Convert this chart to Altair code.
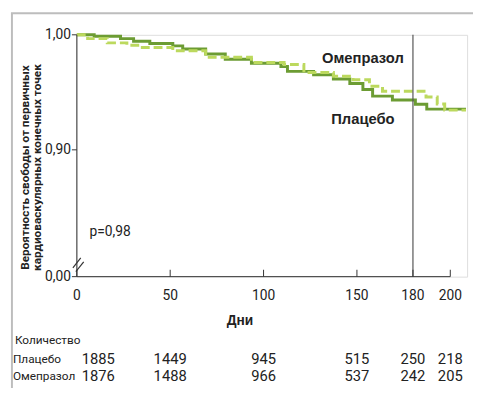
import altair as alt
import pandas as pd

# ---- data ----
placebo_days = [0, 9.3, 23.4, 30.4, 39.1, 51.4, 56.7, 69, 79.5, 93.5, 109.3, 112.8, 126.8,
                137.4, 146.2, 153.2, 158.4, 169, 181.3, 187.4, 208.4]
placebo_surv = [1.000, 0.9987, 0.9967, 0.9944, 0.9925, 0.9904, 0.9876, 0.9833, 0.9788, 0.9753,
                0.9724, 0.9682, 0.9653, 0.9616, 0.9576, 0.9525, 0.9467, 0.9433, 0.9396, 0.9354, 0.9354]
omep_days = [0, 5.8, 16.3, 26.8, 33.9, 51.4, 69, 93.5, 111, 121.6, 137.4, 147.9, 156.7,
             163.7, 187, 193, 197, 208.4]
omep_surv = [1.000, 0.9967, 0.9930, 0.9910, 0.9890, 0.9861, 0.9805, 0.9759, 0.9742, 0.9673,
             0.9639, 0.9610, 0.9553, 0.9510, 0.9460, 0.9399, 0.9345, 0.9345]

tick_days = [0, 50, 100, 150, 180, 200]
x_tick_labels = ["0", "50", "100", "150", "180", "200"]
y_ticks = [0.0, 0.9, 1.0]
y_tick_labels = ["0,00", "0,90", "1,00"]
risk_placebo = [1885, 1449, 945, 515, 250, 218]
risk_omep = [1876, 1488, 966, 537, 242, 205]
group_names = ["Плацебо", "Омепразол"]
y_title = ["Вероятность свободы от первичных", "кардиоваскулярных конечных точек"]
x_title = "Дни"
table_title = "Количество"
p_text = "p=0,98"

FONT = "Roboto, Liberation Sans, sans-serif"
BOLD = "Liberation Sans, Arial, sans-serif"
C_PLAC = "#6c9c33"
C_OMEP = "#bcd95e"
INK = "#222222"
AX = "#333333"

W, H = 397, 246
xs = alt.Scale(domain=[0, 209], range=[0, W], nice=False, zero=False)
ys = alt.Scale(domain=[0, 0.9, 1.0], range=[H, 117, 0], nice=False, zero=False)

pl_df = pd.DataFrame({"day": placebo_days, "s": placebo_surv})
om_df = pd.DataFrame({"day": omep_days, "s": omep_surv})

placebo = alt.Chart(pl_df).mark_line(interpolate="step-after", color=C_PLAC, strokeWidth=3).encode(
    x=alt.X("day:Q", scale=xs, axis=None),
    y=alt.Y("s:Q", scale=ys, axis=None),
)
omep = alt.Chart(om_df).mark_line(interpolate="step-after", color=C_OMEP, strokeWidth=3,
                                  strokeDash=[9, 4]).encode(
    x=alt.X("day:Q", scale=xs, axis=None),
    y=alt.Y("s:Q", scale=ys, axis=None),
)

# x axis (drawn from tick data through the x scale)
xt_df = pd.DataFrame({"day": tick_days, "lab": x_tick_labels})
x_domain = alt.Chart(pd.DataFrame({"a": [tick_days[0]], "b": [tick_days[-1]]})).mark_rule(
    color=AX, strokeWidth=1).encode(
    x=alt.X("a:Q", scale=xs, axis=None), x2="b:Q", y=alt.value(H))
x_ticks = alt.Chart(xt_df).mark_rule(color=AX, strokeWidth=1).encode(
    x=alt.X("day:Q", scale=xs, axis=None), y=alt.value(H - 7), y2=alt.value(H))
x_labels = alt.Chart(xt_df).mark_text(baseline="middle", align="center", fontSize=14,
                                      font=FONT, color=INK).encode(
    x=alt.X("day:Q", scale=xs, axis=None), y=alt.value(H + 20), text="lab:N")

# y axis (drawn from tick data through the y scale)
yt_df = pd.DataFrame({"v": y_ticks, "lab": y_tick_labels})
y_domain = alt.Chart(pd.DataFrame({"k": [0]})).mark_rule(color=AX, strokeWidth=1).encode(
    x=alt.value(0), y=alt.value(0), y2=alt.value(H))
y_tickmarks = alt.Chart(yt_df).mark_rule(color=AX, strokeWidth=1).encode(
    y=alt.Y("v:Q", scale=ys, axis=None), x=alt.value(-5), x2=alt.value(0))
y_labels = alt.Chart(yt_df).mark_text(baseline="middle", align="right", fontSize=14,
                                      font=FONT, color=INK).encode(
    y=alt.Y("v:Q", scale=ys, axis=None), x=alt.value(-6), text="lab:N")

vline = alt.Chart(pd.DataFrame({"day": [180]})).mark_rule(color="#555", strokeWidth=1.2).encode(
    x=alt.X("day:Q", scale=xs, axis=None), y=alt.value(0), y2=alt.value(H))

# axis break marks
brk = alt.Chart(pd.DataFrame({"k": [0]})).mark_rule(color=AX, strokeWidth=1.2).encode(
    x=alt.value(-4), x2=alt.value(4), y=alt.value(237), y2=alt.value(227))
brk2 = alt.Chart(pd.DataFrame({"k": [0]})).mark_rule(color=AX, strokeWidth=1.2).encode(
    x=alt.value(-1), x2=alt.value(7), y=alt.value(241), y2=alt.value(231))

# frame lines
frame_v = alt.Chart(pd.DataFrame({"k": [0]})).mark_rule(color="#bdbdbd", strokeWidth=2).encode(
    x=alt.value(-66), y=alt.value(-22), y2=alt.value(372))
frame_h = alt.Chart(pd.DataFrame({"k": [0]})).mark_rule(color="#bdbdbd", strokeWidth=2).encode(
    x=alt.value(-67), x2=alt.value(410), y=alt.value(-22))

def txt(t, x, y, size=13, weight="normal", align="left", font=FONT, angle=0):
    return alt.Chart(pd.DataFrame({"t": [t]})).mark_text(
        align=align, baseline="middle", fontSize=size, fontWeight=weight, font=font,
        color=INK, angle=angle).encode(x=alt.value(x), y=alt.value(y), text="t:N")

labels = [
    txt(group_names[1], 291, 24, size=15, weight="bold", align="center", font=BOLD),
    txt(group_names[0], 291, 86, size=15, weight="bold", align="center", font=BOLD),
    txt(p_text, 13, 201, size=14),
    txt(x_title, 166, 291, size=14, weight="bold", align="center", font=BOLD),
    txt(table_title, -63, 311, size=12),
    txt(group_names[0], -65, 330, size=12),
    txt(group_names[1], -65, 347, size=12),
    txt(y_title[0], -53, 135, size=12, weight="bold", align="center", angle=270),
    txt(y_title[1], -40, 135, size=12, weight="bold", align="center", angle=270),
]

def risk_layer(counts, row_y):
    df = pd.DataFrame({"day": tick_days, "n": counts})
    first = alt.Chart(df[df["day"] == 0]).mark_text(
        align="left", baseline="middle", fontSize=15, font=FONT, color=INK, dx=5).encode(
        x=alt.X("day:Q", scale=xs, axis=None), y=alt.value(row_y), text="n:N")
    rest = alt.Chart(df[df["day"] > 0]).mark_text(
        align="center", baseline="middle", fontSize=15, font=FONT, color=INK).encode(
        x=alt.X("day:Q", scale=xs, axis=None), y=alt.value(row_y), text="n:N")
    return [first, rest]

chart = alt.layer(
    placebo, omep, frame_v, frame_h, vline, x_domain, x_ticks, x_labels,
    y_domain, y_tickmarks, y_labels, brk, brk2,
    *risk_layer(risk_placebo, 330), *risk_layer(risk_omep, 347), *labels
).properties(
    width=W, height=H,
    autosize=alt.AutoSizeParams(type="none"),
    padding={"left": 70, "top": 24, "right": 6, "bottom": 110},
).configure_view(stroke=None).configure(background="white")

chart.save("out.html", embed_options={"renderer": "svg", "actions": False})
